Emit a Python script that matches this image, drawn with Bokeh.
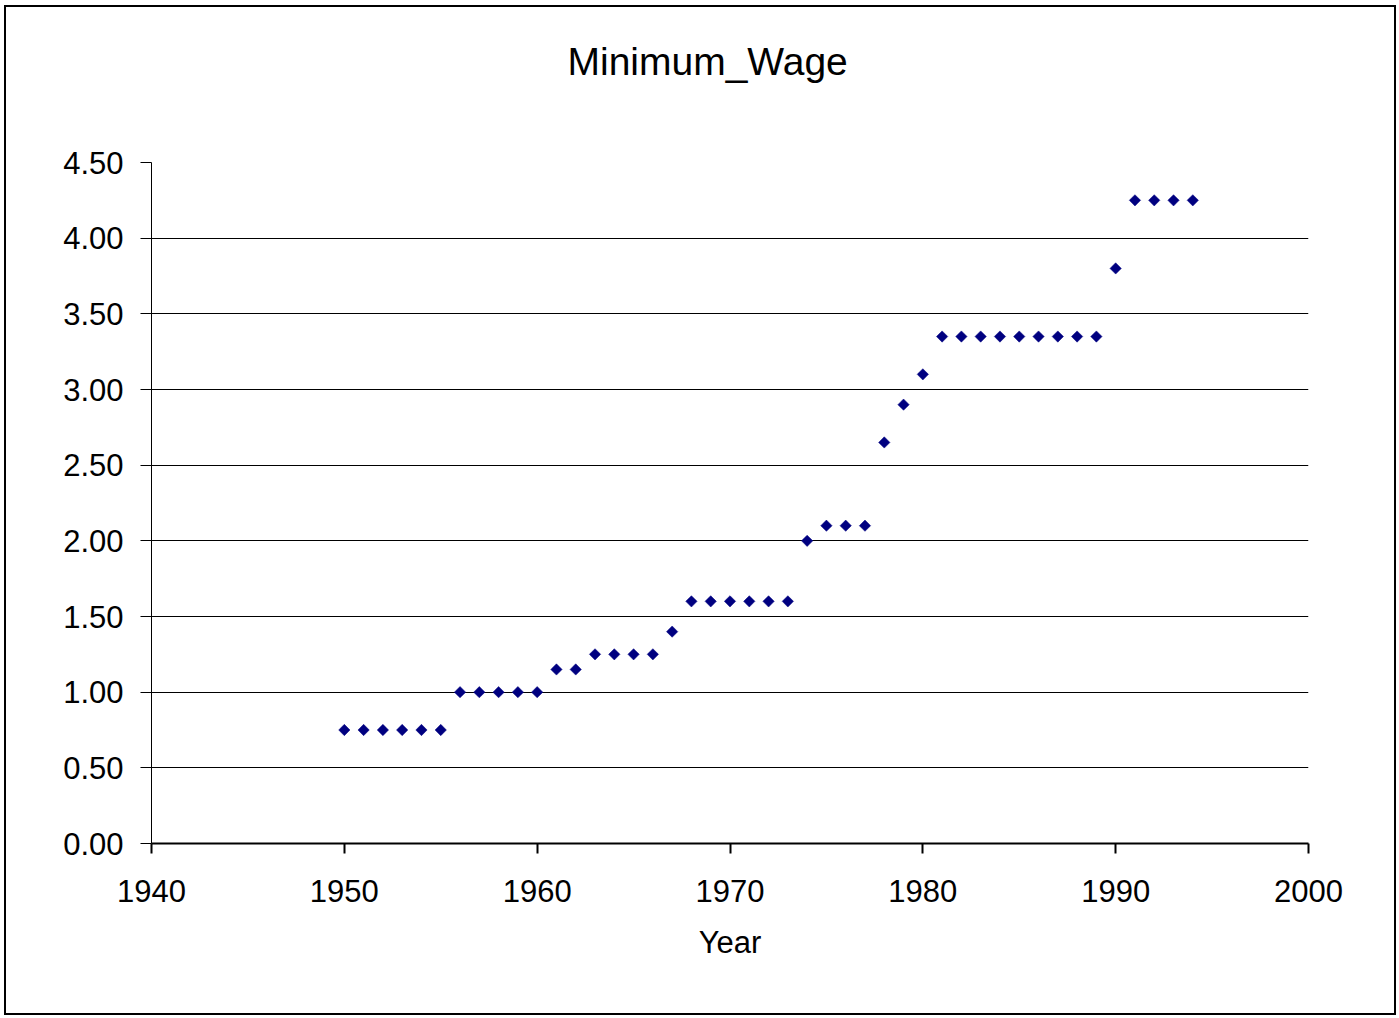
import math
from bokeh.plotting import figure
from bokeh.models import Range1d, FixedTicker, NumeralTickFormatter, Title
from bokeh.embed import file_html
from bokeh.resources import INLINE

years = [1950, 1951, 1952, 1953, 1954, 1955,
         1956, 1957, 1958, 1959, 1960,
         1961, 1962,
         1963, 1964, 1965, 1966,
         1967,
         1968, 1969, 1970, 1971, 1972, 1973,
         1974,
         1975, 1976, 1977,
         1978, 1979, 1980,
         1981, 1982, 1983, 1984, 1985, 1986, 1987, 1988, 1989,
         1990,
         1991, 1992, 1993, 1994]
minimum_wage = [0.75, 0.75, 0.75, 0.75, 0.75, 0.75,
                1.00, 1.00, 1.00, 1.00, 1.00,
                1.15, 1.15,
                1.25, 1.25, 1.25, 1.25,
                1.40,
                1.60, 1.60, 1.60, 1.60, 1.60, 1.60,
                2.00,
                2.10, 2.10, 2.10,
                2.65, 2.90, 3.10,
                3.35, 3.35, 3.35, 3.35, 3.35, 3.35, 3.35, 3.35, 3.35,
                3.80,
                4.25, 4.25, 4.25, 4.25]
x_ticks = [1940, 1950, 1960, 1970, 1980, 1990, 2000]
y_ticks = [0.0, 0.5, 1.0, 1.5, 2.0, 2.5, 3.0, 3.5, 4.0, 4.5]
chart_title = "Minimum_Wage"

FONT = "Liberation Sans"

p = figure(width=1392, height=1010, output_backend="svg", toolbar_location=None,
           x_range=Range1d(1940, 2000), y_range=Range1d(0, 4.5),
           min_border_left=145, min_border_right=90,
           min_border_top=155, min_border_bottom=174,
           title=chart_title, x_axis_label="Year")
p.styles = {"border": "2px solid black", "margin-left": "4px", "margin-top": "5px"}

# spacer panel between the title and the plot frame
p.add_layout(Title(text=" ", text_font_size="1px", standoff=70), "above")

p.title.text_font = FONT
p.title.text_font_size = "39px"
p.title.text_font_style = "normal"
p.title.text_color = "black"
p.title.align = "left"
p.title.offset = 416
p.title.vertical_align = "top"
p.title.standoff = 10

p.outline_line_color = None
p.background_fill_color = "white"
p.border_fill_color = "white"

p.xgrid.grid_line_color = None
p.ygrid.grid_line_color = "black"
p.ygrid.grid_line_width = 1

p.xaxis.ticker = FixedTicker(ticks=x_ticks)
p.yaxis.ticker = FixedTicker(ticks=y_ticks)
p.yaxis.formatter = NumeralTickFormatter(format="0.00")

for ax in (p.xaxis[0], p.yaxis[0]):
    ax.major_label_text_font = FONT
    ax.major_label_text_font_size = "31px"
    ax.major_label_text_color = "black"
    ax.axis_label_text_font = FONT
    ax.axis_label_text_font_size = "31px"
    ax.axis_label_text_font_style = "normal"
    ax.axis_label_text_color = "black"
    ax.axis_line_color = "black"
    ax.major_tick_line_color = "black"
    ax.minor_tick_line_color = None
    ax.major_tick_in = 0

p.xaxis.major_tick_out = 10
p.xaxis.axis_line_width = 2
p.xaxis.major_tick_line_width = 2
p.xaxis.major_label_standoff = 26
p.xaxis.axis_label_standoff = 20

p.yaxis.major_tick_out = 11
p.yaxis.axis_line_width = 1
p.yaxis.major_tick_line_width = 1
p.yaxis.major_label_standoff = 17

p.scatter(years, minimum_wage, marker="square", size=8, angle=math.pi / 4,
          fill_color="#000080", line_color="#000080", line_width=0.5)

open("out.html", "w").write(file_html(p, INLINE))
